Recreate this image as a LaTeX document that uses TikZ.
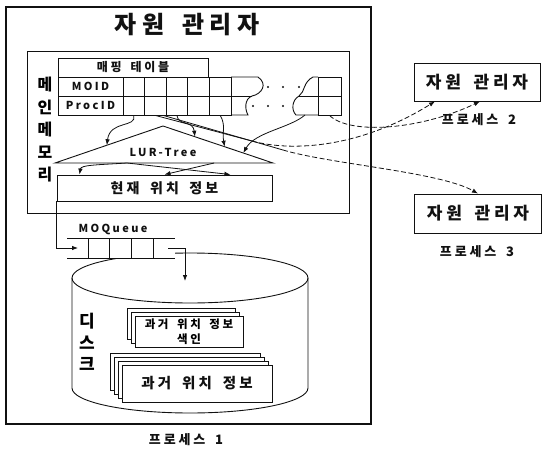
\documentclass[tikz,border=0pt]{standalone}
\usepackage{fontspec}
\newfontfamily\kr[LetterSpace=22]{Noto Sans CJK KR}
\newfontfamily\krs{Noto Sans CJK KR}
\newcommand\wsp{\hspace{0.75em}}
\usetikzlibrary{positioning, calc, arrows.meta}
\definecolor{Ink}{HTML}{111111}
\tikzset{
    txt/.style={font=\kr\bfseries\fontsize{#1}{#1}\selectfont, text=Ink, inner sep=0pt},
    boxnode/.style={rectangle, draw=Ink, line width=0.9pt, inner sep=0pt, align=center},
    cellbox/.style={boxnode, minimum width=21.6pt, minimum height=19pt, txt=11},
    pagebox/.style={boxnode, fill=white},
    tbl/.style={line width=0.9pt, color=Ink},
    wire/.style={line width=0.8pt, color=Ink},
    arrow/.style={-{Latex[length=6pt,width=4.5pt]}, line width=0.8pt, color=Ink},
    dasharrow/.style={arrow, dash pattern=on 5pt off 2.5pt},
}
\begin{document}
\begin{tikzpicture}[x=1pt, y=-1pt]
    \useasboundingbox (0,0) rectangle (544,450);

    % Process 1
    \node[boxnode, line width=1.1pt, minimum width=365pt, minimum height=417pt] (proc1) at (188.5,215.5) {};
    \node[txt=24] (title) at (187,25) {자원\wsp 관리자};
    \node[txt=13] (p1lbl) at (186,440) {프로세스\wsp 1};

    % Main memory
    \node[boxnode, minimum width=322pt, minimum height=162pt] (mem) at (188,132) {};
    \node[align=center, inner sep=0pt, font=\krs\bfseries\fontsize{16}{22.5}\selectfont] (memlbl) at (45,130) {메\\인\\메\\모\\리};

    % Other processes
    \node[boxnode, minimum width=126pt, minimum height=38pt, txt=17] (b2) at (477,82) {자원\wsp 관리자};
    \node[txt=13] (p2lbl) at (479,120) {프로세스\wsp 2};
    \node[boxnode, minimum width=127pt, minimum height=39pt, txt=17] (b3) at (478,213.5) {자원\wsp 관리자};
    \node[txt=13] (p3lbl) at (477,252) {프로세스\wsp 3};

    % Mapping table
    \node[boxnode, minimum width=150pt, minimum height=19pt, txt=12] (hdr) at (133,67.5) {매핑\wsp 테이블};
    \node[cellbox, minimum width=65pt] (moid) at (90.5,86.5) {MOID};
    \node[cellbox, minimum width=65pt] (pid) at (90.5,105.5) {ProcID};
    \foreach \i in {1,...,5} {
        \node[cellbox] (m\i) at (112.2+21.6*\i, 86.5) {};
        \node[cellbox] (p\i) at (112.2+21.6*\i, 105.5) {};
    }
    \draw[tbl] (231,77) -- (258,77) .. controls (268,84) and (262,94) .. (252,96) .. controls (244,99) and (245,110) .. (248,115) -- (231,115);
    \draw[tbl] (231,96) -- (252,96);
    \draw[tbl] (318,77) -- (313,77) .. controls (303,82) and (305,92) .. (299,96) .. controls (292,100) and (291,110) .. (296,115) -- (318,115);
    \draw[tbl] (299,96) -- (318,96);
    \node[cellbox, minimum width=23pt] (rm) at (329.5,86.5) {};
    \node[cellbox, minimum width=23pt] (rp) at (329.5,105.5) {};
    \foreach \x in {268,283,299} \fill[Ink] (\x,87) circle (1.1);
    \foreach \x in {253,268,283} \fill[Ink] (\x,106) circle (1.1);

    % LUR-Tree
    \coordinate (tl) at (55,163);
    \coordinate (tt) at (163,126);
    \coordinate (tr) at (273,163);
    \draw[tbl] (tl) -- (tt) -- (tr) -- cycle;
    \node[txt=11] (tree) at (163,152) {LUR-Tree};

    % Current location
    \node[boxnode, minimum width=215pt, minimum height=26pt, txt=14] (cur) at (164.5,188) {현재\wsp 위치\wsp 정보};

    % Table to tree
    \coordinate (rq) at (305,115);
    \draw[arrow] (p1.south) .. controls (137,128) and (110,120) .. ($(tt)!0.52!(tl)$);
    \draw[arrow] (p3.south) .. controls (178,126) and (193,120) .. ($(tt)!0.29!(tr)$);
    \draw[arrow] (p5.south) .. controls (226,125) and (222,132) .. ($(tt)!0.56!(tr)$);
    \draw[arrow] (rq) .. controls (290,128) and (255,132) .. ($(tt)!0.73!(tr)$);

    % Tree to current location
    \coordinate (ta) at ($(tl)!0.33!(tr)$);
    \coordinate (tb) at ($(tl)!0.73!(tr)$);
    \draw[arrow] (ta) .. controls (95,165) and (81,165) .. ($(cur.north west)+(23,0)$);
    \draw[arrow] (ta) -- ($(cur.north east)+(-42,0)$);
    \draw[arrow] (tb) -- (cur.north);

    % Links to processes 2 and 3
    \coordinate (j2) at (252,141);
    \coordinate (j3) at (283,150);
    \draw[wire] (p2.south) -- (j2);
    \draw[dasharrow] (j2) .. controls (292,152) and (360,148) .. ($(b2.south)+(-42,0)$);
    \draw[wire] ([xshift=8pt]p2.south) -- (j3);
    \draw[dasharrow] (j3) .. controls (330,164) and (440,172) .. (b3.north);
    \draw[dasharrow] (rp.south) .. controls (350,135) and (420,130) .. ($(b2.south)+(3,0)$);

    % Disk
    \draw[tbl] (72,278) -- (72,388) arc[start angle=180, end angle=0, x radius=118, y radius=25] -- (308,278);
    \draw[tbl] (190,278) ellipse [x radius=118, y radius=25];
    \node[align=center, inner sep=0pt, font=\krs\bfseries\fontsize{17}{21.5}\selectfont] (dlbl) at (87,342) {디\\스\\크};
    \foreach \k in {8,4}
        \node[pagebox, minimum width=108pt, minimum height=31pt] at (189-\k, 331.5-\k) {};
    \node[pagebox, minimum width=108pt, minimum height=31pt, font=\kr\bfseries\fontsize{11.5}{15}\selectfont] (idx) at (189,331.5) {과거\wsp 위치\wsp 정보\\색인};
    \foreach \k in {12,8,4}
        \node[pagebox, minimum width=150pt, minimum height=37pt] at (197-\k, 383.5-\k) {};
    \node[pagebox, minimum width=150pt, minimum height=37pt, txt=14.5] (hist) at (197,383.5) {과거\wsp 위치\wsp 정보};

    % MOQueue
    \fill[white] (67,238) rectangle (175,258);
    \draw[tbl] (67,238) -- (175,238);
    \draw[tbl] (67,258) -- (175,258);
    \foreach \i in {1,2,3}
        \node[boxnode, minimum width=21.7pt, minimum height=20pt] (q\i) at (77.15+21.7*\i, 248) {};
    \node[txt=11] (qlbl) at (113,229) {MOQueue};
    \coordinate (qin) at (78,248);
    \coordinate (qout) at (168,248);
    \coordinate (dtop) at (185,281);
    \draw[arrow] (cur.south west) |- (qin);
    \draw[arrow] (qout) -| (dtop);
\end{tikzpicture}
\end{document}
